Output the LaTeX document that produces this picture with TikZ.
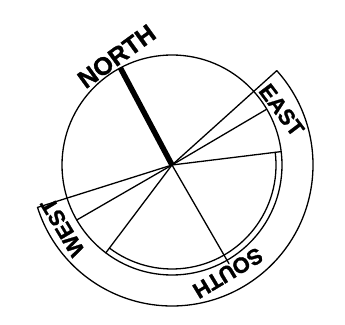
\documentclass[tikz,border=0pt]{standalone}
\usepackage{fontspec}
\setmainfont{Liberation Sans}
\newfontfamily\labelfont[FakeBold=1.2]{Liberation Sans Bold}
\begin{document}
\begin{tikzpicture}[x=1pt, y=1pt, line width=1.3pt, line join=round, line cap=round,
		font=\labelfont\fontsize{22}{26}\selectfont]
			\useasboundingbox (0,0) rectangle (345,324);
			\begin{scope}[shift={(172,159)}]
				\coordinate (O) at (0,0);
				\draw (O) circle (110);
				% double rim and outer band
				\draw (7:104) arc[start angle=7, end angle=-127, radius=104];
				\draw (42:110)--(42:141) arc[start angle=42, end angle=-162.5, radius=141]--(197.5:110);
				% rays
				\foreach \a in {42,30.5,7,233,210,197.5}
					\draw (O)--(\a:110);
				\draw (O)--(300:114);
				\draw[line width=5.5pt, line cap=butt] (O)--(118:110);
				% labels
				\node[rotate=36, font=\labelfont\fontsize{25}{30}\selectfont] (north) at (117:122) {NORTH};
				\node[rotate=-53] (east) at (26.6:122.6) {EAST};
				\node[rotate=211] (south) at (297.4:121.7) {SOUTH};
				\node[rotate=121] (west) at (209.7:126) {WEST};
			\end{scope}
		\end{tikzpicture}
\end{document}
